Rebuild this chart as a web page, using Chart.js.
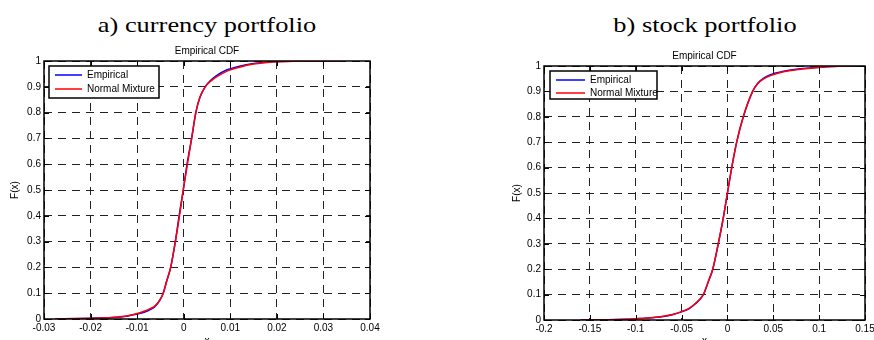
<!DOCTYPE html>
<html>
<head>
<meta charset="utf-8">
<script src="https://cdn.jsdelivr.net/npm/chart.js@4"></script>
<style>
  html, body { margin: 0; padding: 0; background: #fff; overflow: hidden; }
  body { width: 874px; height: 340px; position: relative; }
  .head {
    position: absolute; top: 14px; width: 300px; text-align: center;
    font-family: "Liberation Serif", "Times New Roman", serif; font-size: 22px; line-height: 22px;
    color: #000; transform: scaleX(1.2); white-space: nowrap;
  }
  .box { position: absolute; top: 0; width: 437px; height: 360px; }
</style>
</head>
<body>
<div class="head" style="left:57px">a) currency portfolio</div>
<div class="head" style="left:555px">b) stock portfolio</div>
<div class="box" style="left:0"><canvas id="cur"></canvas></div>
<div class="box" style="left:437px"><canvas id="stk"></canvas></div>
<script>
// a) currency portfolio
const currencyX = [-0.0276, -0.022, -0.018, -0.015, -0.012, -0.01, -0.0085, -0.007, -0.0062, -0.0052, -0.0044, -0.0036, -0.0028, -0.0018, -0.0009, -0.0001, 0.0008, 0.0017, 0.0026, 0.0035, 0.0046, 0.0058, 0.0072, 0.0092, 0.012, 0.015, 0.019, 0.024, 0.034];
const currencyEmpirical = [0, 0.002, 0.004, 0.006, 0.012, 0.019, 0.026, 0.038, 0.048, 0.07, 0.1, 0.15, 0.2, 0.3, 0.41, 0.5, 0.61, 0.7, 0.8, 0.86, 0.9, 0.925, 0.945, 0.965, 0.98, 0.99, 0.997, 0.999, 1];
const currencyMixture = [0, 0.002, 0.004, 0.007, 0.013, 0.021, 0.03, 0.042, 0.05, 0.072, 0.1, 0.15, 0.2, 0.3, 0.4, 0.5, 0.6, 0.7, 0.8, 0.86, 0.9, 0.922, 0.94, 0.96, 0.976, 0.988, 0.996, 0.999, 1];
const currencyTicksX = [-0.03, -0.02, -0.01, 0, 0.01, 0.02, 0.03, 0.04];

// b) stock portfolio
const stockX = [-0.16, -0.13, -0.11, -0.1, -0.09, -0.08, -0.07, -0.06, -0.05, -0.042, -0.035, -0.0263, -0.021, -0.016, -0.01, -0.0046, 0, 0.0047, 0.0101, 0.0173, 0.0275, 0.033, 0.04, 0.047, 0.06, 0.075, 0.09, 0.108, 0.125, 0.14];
const stockEmpirical = [0, 0.001, 0.003, 0.005, 0.007, 0.01, 0.014, 0.021, 0.032, 0.044, 0.064, 0.1, 0.15, 0.2, 0.3, 0.4, 0.5, 0.6, 0.7, 0.8, 0.9, 0.932, 0.953, 0.966, 0.978, 0.987, 0.992, 0.997, 0.999, 1];
const stockMixture = [0, 0.001, 0.003, 0.005, 0.007, 0.01, 0.015, 0.022, 0.033, 0.046, 0.065, 0.1, 0.15, 0.2, 0.3, 0.4, 0.5, 0.6, 0.7, 0.8, 0.9, 0.93, 0.95, 0.962, 0.976, 0.985, 0.991, 0.997, 0.999, 1];
const stockTicksX = [-0.2, -0.15, -0.1, -0.05, 0, 0.05, 0.1, 0.15];

const ticksY = [0, 0.1, 0.2, 0.3, 0.4, 0.5, 0.6, 0.7, 0.8, 0.9, 1];
const seriesNames = ["Empirical", "Normal Mixture"];

const FONT = "'Liberation Sans', Arial, sans-serif";
Chart.defaults.font.family = FONT;
Chart.defaults.color = "#000";

function fmt(v) {
  const s = String(parseFloat(v.toFixed(3)));
  return s === "-0" ? "0" : s;
}

// matlab style box, inward ticks and legend
const matlabBox = {
  id: "matlabBox",
  afterDatasetsDraw(chart, args, opts) {
    const { ctx, chartArea: a, scales } = chart;
    ctx.save();
    ctx.strokeStyle = "#000";
    ctx.lineWidth = 1;
    ctx.beginPath();
    scales.x.ticks.forEach(t => {
      const px = Math.round(scales.x.getPixelForValue(t.value)) + 0.5;
      ctx.moveTo(px, a.bottom); ctx.lineTo(px, a.bottom - 5);
      ctx.moveTo(px, a.top); ctx.lineTo(px, a.top + 5);
    });
    scales.y.ticks.forEach(t => {
      const py = Math.round(scales.y.getPixelForValue(t.value)) + 0.5;
      ctx.moveTo(a.left, py); ctx.lineTo(a.left + 5, py);
      ctx.moveTo(a.right, py); ctx.lineTo(a.right - 5, py);
    });
    ctx.stroke();
    ctx.lineWidth = 1.5;
    ctx.strokeRect(a.left, a.top, a.right - a.left, a.bottom - a.top);

    // legend
    const L = opts.legend;
    const x0 = a.left + L.dx, y0 = a.top + L.dy;
    ctx.fillStyle = "#fff";
    ctx.fillRect(x0, y0, L.w, L.h);
    ctx.lineWidth = 1.5;
    ctx.strokeRect(x0, y0, L.w, L.h);
    ctx.font = "10px " + FONT;
    ctx.textBaseline = "middle";
    chart.data.datasets.forEach((ds, i) => {
      const yy = y0 + L.row0 + i * L.rowGap;
      ctx.strokeStyle = ds.borderColor;
      ctx.lineWidth = 1.5;
      ctx.beginPath();
      ctx.moveTo(x0 + 6, yy); ctx.lineTo(x0 + 6 + L.line, yy);
      ctx.stroke();
      ctx.fillStyle = "#000";
      ctx.fillText(ds.label, x0 + 11 + L.line, yy + 0.5);
    });
    ctx.restore();
  }
};

function makeChart(id, xs, emp, mix, xTicks, cfg) {
  const toPts = ys => xs.map((x, i) => ({ x: x, y: ys[i] }));
  return new Chart(document.getElementById(id), {
    type: "line",
    data: {
      datasets: [
        { label: seriesNames[0], data: toPts(emp), borderColor: "#0000ff", borderWidth: 1.5, pointRadius: 0, cubicInterpolationMode: "monotone", order: 1 },
        { label: seriesNames[1], data: toPts(mix), borderColor: "#ff0000", borderWidth: 1.5, pointRadius: 0, cubicInterpolationMode: "monotone", order: 0 }
      ]
    },
    options: {
      responsive: true,
      maintainAspectRatio: false,
      animation: false,
      events: [],
      layout: { padding: { left: cfg.padLeft, right: cfg.padRight, top: 0, bottom: 0 } },
      plugins: {
        legend: { display: false },
        tooltip: { enabled: false },
        title: {
          display: true,
          text: "Empirical CDF",
          fullSize: false,
          font: { size: 10, weight: "normal" },
          color: "#000",
          padding: { top: cfg.titleTop, bottom: 4 }
        },
        matlabBox: { legend: cfg.legend }
      },
      scales: {
        x: {
          type: "linear",
          min: xTicks[0],
          max: xTicks[xTicks.length - 1],
          afterBuildTicks: s => { s.ticks = xTicks.map(v => ({ value: v })); },
          afterFit: s => { s.height = cfg.xHeight; s.paddingLeft = 0; s.paddingRight = 0; },
          ticks: { callback: v => fmt(v), font: { size: 10 }, padding: 3, maxRotation: 0, autoSkip: false, color: "#000" },
          grid: { color: "#222", lineWidth: 1, drawTicks: false },
          border: { display: false, dash: [8, 6] },
          title: { display: true, text: "x", font: { size: 10 }, padding: { top: 0, bottom: 13 }, color: "#000" }
        },
        y: {
          min: 0,
          max: 1,
          afterBuildTicks: s => { s.ticks = ticksY.map(v => ({ value: v })); },
          afterFit: s => { s.width = cfg.yWidth; s.paddingTop = 0; s.paddingBottom = 0; },
          ticks: { callback: v => fmt(v), font: { size: 10 }, padding: 3, autoSkip: false, color: "#000" },
          grid: { color: "#222", lineWidth: 1, drawTicks: false },
          border: { display: false, dash: [8, 6] },
          title: { display: true, text: "F(x)", font: { size: 10 }, padding: { top: 9, bottom: 0 }, color: "#000" }
        }
      }
    },
    plugins: [matlabBox]
  });
}

makeChart("cur", currencyX, currencyEmpirical, currencyMixture, currencyTicksX, {
  padLeft: 0, padRight: 67, yWidth: 44, xHeight: 41, titleTop: 45,
  legend: { dx: 5, dy: 5, w: 110, h: 32, line: 27, row0: 9, rowGap: 14 }
});
makeChart("stk", stockX, stockEmpirical, stockMixture, stockTicksX, {
  padLeft: 65, padRight: 9, yWidth: 42, xHeight: 40, titleTop: 50,
  legend: { dx: 6, dy: 5, w: 107, h: 28, line: 29, row0: 9, rowGap: 13 }
});
</script>
</body>
</html>
